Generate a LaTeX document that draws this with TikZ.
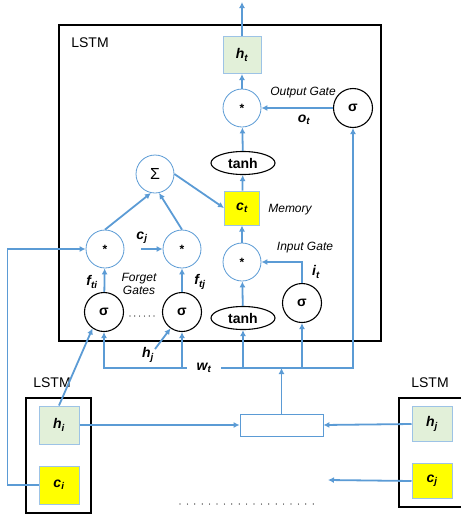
\documentclass[tikz,border=0pt,12pt]{standalone}
\usepackage{fontspec}
\setmainfont{Liberation Sans}
\usetikzlibrary{arrows.meta, positioning, shapes.geometric}
\definecolor{lineblue}{RGB}{91, 155, 213}
\definecolor{hgreen}{RGB}{226, 240, 217}
\definecolor{hborder}{RGB}{157, 195, 230}
\definecolor{cyellow}{RGB}{255, 255, 0}
\newcommand{\bv}[2]{#1\textsubscript{#2}}

\begin{document}
\begin{tikzpicture}[x=1pt, y=-1pt,
        op/.style={circle, draw=lineblue, line width=0.8pt, fill=white,
                   minimum size=38pt, inner sep=0pt,
                   font=\fontsize{12}{14}\selectfont\bfseries},
        gate/.style={circle, draw, line width=1.1pt, fill=white,
                     minimum size=39pt, inner sep=0pt,
                     font=\fontsize{14}{16}\selectfont\bfseries},
        act/.style={ellipse, draw, line width=1.1pt, fill=white,
                    minimum width=64pt, minimum height=23pt, inner sep=0pt,
                    font=\fontsize{14}{16}\selectfont\bfseries},
        hcell/.style={rectangle, draw=hborder, line width=1pt, fill=hgreen,
                      minimum width=38pt, minimum height=37pt, inner sep=0pt,
                      font=\fontsize{14}{16}\selectfont\bfseries\itshape},
        ccell/.style={hcell, fill=cyellow},
        box/.style={draw, line width=1.2pt},
        arrow/.style={-{Latex[length=6pt, width=6pt]}, line width=1.8pt, draw=lineblue},
        lbl/.style={font=\fontsize{12}{13}\selectfont\itshape},
        var/.style={font=\fontsize{14}{16}\selectfont\bfseries\itshape},
        title/.style={font=\fontsize{14}{16}\selectfont},
    ]
    \useasboundingbox (0,0) rectangle (461,517);

    % the LSTM cell
    \node[box, rectangle, minimum width=322pt, minimum height=316pt, inner sep=0pt] (cell) at (220,183) {};
    \node[title] (celllbl) at (90,43) {LSTM};

    \node[hcell] (ht) at (242,55) {\bv{h}{t}};
    \node[op] (outmul) at (242,108) {*};
    \node[gate] (outsig) at (353,108) {σ};
    \node[act] (tanhc) at (243,163) {tanh};
    \node[op, font=\fontsize{16}{18}\selectfont] (sum) at (155,174) {Σ};
    \node[ccell, minimum width=35pt, minimum height=34pt] (ct) at (242,208) {\bv{c}{t}};
    \node[op] (inmul) at (242,262) {*};
    \node[gate] (insig) at (302,303) {σ};
    \node[act] (tanhin) at (243,318) {tanh};
    \node[op] (fmul1) at (105,249) {*};
    \node[op] (fmul2) at (182,249) {*};
    \node[gate] (fsig1) at (104,312) {σ};
    \node[gate] (fsig2) at (182,312) {σ};

    \node[lbl] (outlbl) at (303,93) {Output Gate};
    \node[var] (otlbl) at (304,120) {\bv{o}{t}};
    \node[lbl] (memlbl) at (290,210) {Memory};
    \node[lbl] (inlbl) at (305,248) {Input Gate};
    \node[var] (itlbl) at (316,272) {\bv{i}{t}};
    \node[lbl, align=center] (fglbl) at (139,284) {Forget\\Gates};
    \node[var] (ftilbl) at (92,282) {\bv{f}{ti}};
    \node[var] (ftjlbl) at (200,282) {\bv{f}{tj}};
    \node[var] (cjlbl) at (142,238) {\bv{c}{j}};
    \coordinate (cjin) at (141,249);
    \coordinate (top) at (242,2);

    % neighbour cells
    \node[box, rectangle, minimum width=65pt, minimum height=115pt, inner sep=0pt] (lstmi) at (58.5,455.5) {};
    \node[title] (lstmilbl) at (52,383) {LSTM};
    \node[hcell, minimum width=40pt, minimum height=38pt] (hi) at (59,425) {\bv{h}{i}};
    \node[ccell, minimum width=40pt, minimum height=38pt, below=21pt of hi] (ci) {\bv{c}{i}};

    \draw[box] (461,398) -- (399,398) -- (399,507) -- (461,507);
    \node[title] (lstmjlbl) at (430,383) {LSTM};
    \node[hcell, minimum width=40pt, minimum height=35pt] (hj) at (432,424) {\bv{h}{j}};
    \node[ccell, minimum width=40pt, minimum height=35pt, below=21pt of hj] (cj) {\bv{c}{j}};
    \coordinate (cjout) at (328,480);

    \node[rectangle, draw=lineblue, line width=0.8pt, fill=white,
          minimum width=83pt, minimum height=22pt] (attn) at (281.5,425) {};
    \node[var] (hjlbl) at (148,355) {\bv{h}{j}};
    \coordinate (hjin) at (155,349);
    \node[var, minimum width=34pt, inner sep=0pt] (wt) at (204,368) {\bv{w}{t}};

    % connectors
    \draw[arrow] (ht) -- (top);
    \draw[arrow] (outmul) -- (ht);
    \draw[arrow] (outsig) -- (outmul);
    \draw[arrow] (tanhc) -- (outmul);
    \draw[arrow] (ct) -- (tanhc);
    \draw[arrow] (sum.east) -- (ct.west);
    \draw[arrow] (inmul) -- (ct);
    \draw[arrow] (tanhin) -- (inmul);
    \draw[arrow] (insig.north) |- (inmul.east);
    \draw[arrow] (fsig1) -- (fmul1);
    \draw[arrow] (fsig2) -- (fmul2);
    \draw[arrow] (fmul1.north) -- (sum.258);
    \draw[arrow] (fmul2.north) -- (sum.282);
    \draw[arrow] (cjin) -- (fmul2.west);
    \draw[arrow] (ci.west) -- ++(-31,0) |- (fmul1.west);
    \draw[arrow] (hi.north) -- (fsig1.235);
    \draw[arrow] (hjin) -- (fsig2.235);

    \draw[arrow] (wt.west) -| (fsig1.south);
    \draw[arrow] (fsig2.south |- wt) -- (fsig2.south);
    \draw[arrow] (wt.east) -| (outsig.south);
    \draw[arrow] (tanhin.south |- wt) -- (tanhin.south);
    \draw[arrow] (insig.south |- wt) -- (insig.south);
    \draw[arrow] (attn.north) -- (attn.north |- wt);

    \draw[arrow] (hi.east) -- (attn.west);
    \draw[arrow] (hj.west) -- (attn.east);
    \draw[arrow] (cj.west) -- (cjout);

    % dots
    \draw[line width=1.2pt, line cap=round, dash pattern=on 0pt off 4.8pt] (130,316) -- (157,316);
    \draw[line width=1.2pt, line cap=round, dash pattern=on 0pt off 7.4pt] (180,504) -- (320,504);
\end{tikzpicture}
\end{document}
